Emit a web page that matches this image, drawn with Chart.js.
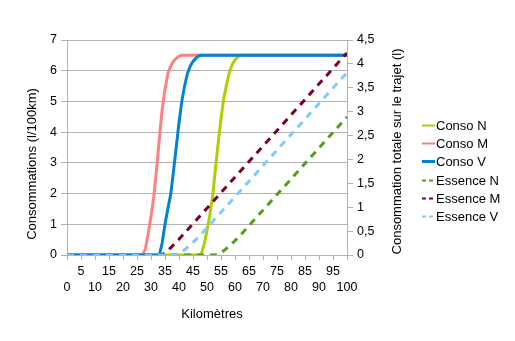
<!DOCTYPE html>
<html><head><meta charset="utf-8">
<script src="https://cdn.jsdelivr.net/npm/chart.js@4/dist/chart.umd.min.js"></script>
<style>html,body{margin:0;padding:0;background:#fff}</style>
</head><body>
<canvas id="c" width="515" height="341"></canvas>
<script>
// ---- data ----
const seriesNames = ['Conso N','Conso M','Conso V','Essence N','Essence M','Essence V'];

const consoN_km = [0,47,48,49,50,51,52,53,54,55,56,57,58,59,60,61,62,100];
const consoN    = [0,0,0.05,0.35,0.8,1.3,1.9,2.8,3.65,4.45,5.1,5.55,5.95,6.2,6.35,6.45,6.5,6.5];

const consoM_km = [0,27,28,29,30,31,32,33,34,35,36,37,38,39,40,41,100];
const consoM    = [0,0,0.2,0.7,1.25,1.9,2.8,3.8,4.75,5.4,5.9,6.15,6.3,6.4,6.47,6.5,6.5];

const consoV_km = [0,33,34,35,36,37,38,39,40,41,42,43,44,45,46,47,48,100];
const consoV    = [0,0,0.4,1.0,1.5,1.95,2.7,3.5,4.3,5.0,5.5,5.9,6.15,6.3,6.4,6.48,6.5,6.5];

const essN_km = [0,53,54,55,56,57,58,59,60,61,62,100];
const essN    = [0,0,0.02,0.05,0.09,0.14,0.19,0.24,0.30,0.36,0.42,2.89];

const essM_km = [0,33,34,35,36,37,38,39,40,100];
const essM    = [0,0,0.01,0.04,0.09,0.15,0.21,0.27,0.33,4.23];

const essV_km = [0,39,40,41,42,43,44,45,46,47,48,100];
const essV    = [0,0,0.03,0.07,0.11,0.16,0.21,0.265,0.32,0.38,0.44,3.82];

const leftTitle = 'Consommations (l/100km)';
const rightTitle = 'Consommation totale sur le trajet (l)';
const xTitle = 'Kilomètres';

// ---- styling ----
const colors = ['#aecf00','#ff8080','#0084d1','#579d1c','#7e0021','#83caff'];
const FONT = '"Liberation Sans", Arial, sans-serif';
const GRID = '#b3b3b3';

function pts(xs, ys){ return xs.map((x,i)=>({x:x, y:ys[i]})); }
const raw = [[consoN_km,consoN],[consoM_km,consoM],[consoV_km,consoV],[essN_km,essN],[essM_km,essM],[essV_km,essV]];

const datasets = raw.map((r,i)=>({
  label: seriesNames[i],
  data: pts(r[0], r[1]),
  borderColor: colors[i],
  backgroundColor: colors[i],
  borderWidth: 3,
  borderDash: i >= 3 ? [7,6] : [],
  pointRadius: 0,
  tension: 0,
  fill: false,
  yAxisID: i >= 3 ? 'y2' : 'y',
  order: 5 - i
}));

Chart.defaults.font.family = FONT;
Chart.defaults.color = '#000';

const decor = {
  id: 'decor',
  afterDraw(chart){
    const ctx = chart.ctx;
    const a = chart.chartArea;
    ctx.save();
    ctx.fillStyle = '#000';
    ctx.font = '13px ' + FONT;
    ctx.textAlign = 'center';
    ctx.textBaseline = 'middle';
    // left title
    ctx.save();
    ctx.translate(a.left - 35, 164);
    ctx.rotate(-Math.PI/2);
    ctx.fillText(leftTitle, 0, 0);
    ctx.restore();
    // right title
    ctx.save();
    ctx.translate(a.right + 50, 151.5);
    ctx.rotate(-Math.PI/2);
    ctx.fillText(rightTitle, 0, 0);
    ctx.restore();
    // x title
    ctx.fillText(xTitle, 212, 314);
    // legend
    ctx.textAlign = 'left';
    chart.data.datasets.forEach((ds,i)=>{
      const y = Math.round(125 + i*18.2);
      ctx.beginPath();
      ctx.strokeStyle = ds.borderColor;
      ctx.lineWidth = (i === 2) ? 3 : 2;
      ctx.setLineDash(i >= 3 ? [4,3] : []);
      ctx.moveTo(422, y + 0.5);
      ctx.lineTo(435, y + 0.5);
      ctx.stroke();
      ctx.setLineDash([]);
      ctx.fillText(ds.label, 436, y + 1);
    });
    ctx.restore();
  }
};

new Chart(document.getElementById('c'), {
  type: 'line',
  data: { datasets },
  options: {
    responsive: false,
    animation: false,
    devicePixelRatio: 1,
    layout: { padding: { top: 40, left: 0, right: 0, bottom: 0 } },
    plugins: { legend: { display: false }, tooltip: { enabled: false } },
    scales: {
      x: {
        type: 'linear', position: 'bottom', min: 0, max: 100,
        grid: { drawOnChartArea: false, drawTicks: true, tickLength: 5, color: GRID },
        border: { color: GRID },
        ticks: {
          stepSize: 5, autoSkip: false, maxRotation: 0, padding: 4,
          font: { size: 12.5, lineHeight: 1.26 },
          callback: v => (v % 10 === 0) ? ['', String(v)] : [String(v), '']
        },
        afterFit: s => { s.height = 86; }
      },
      y: {
        position: 'left', min: 0, max: 7,
        grid: { color: GRID, tickLength: 6 },
        border: { color: GRID },
        ticks: { stepSize: 1, padding: 4, font: { size: 12.5 } },
        afterFit: s => { s.width = 67; }
      },
      y2: {
        position: 'right', min: 0, max: 4.5,
        grid: { drawOnChartArea: false, tickLength: 6, color: GRID },
        border: { color: GRID },
        ticks: { stepSize: 0.5, padding: 4, font: { size: 12.5 },
          callback: v => String(v).replace('.', ',') },
        afterFit: s => { s.width = 168; }
      }
    }
  },
  plugins: [decor]
});
</script>
</body></html>
